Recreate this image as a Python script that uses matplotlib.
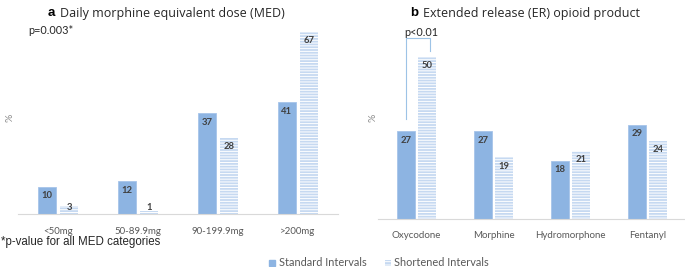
import matplotlib
matplotlib.use("Agg")
import matplotlib.pyplot as plt
from matplotlib.patches import Rectangle
import numpy as np

plt.rcParams['hatch.linewidth'] = 0.7

med_cats = ["<50mg", "50-89.9mg", "90-199.9mg", ">200mg"]
med_standard = [10, 12, 37, 41]
med_shortened = [3, 1, 28, 67]

er_cats = ["Oxycodone", "Morphine", "Hydromorphone", "Fentanyl"]
er_standard = [27, 27, 18, 29]
er_shortened = [50, 19, 21, 24]

W, H = 685, 267
fig = plt.figure(figsize=(6.85, 2.67), dpi=100)

STD_COLOR = "#8DB4E2"
SHORT_COLOR = "#C6D9F1"
TICK_COLOR = "#595959"
LBL_COLOR = "#404040"
FONT = "Lato"

def fx(x):
    return x / W

def fy(y):
    return 1 - y / H

def panel(rect, cats, std, short, ymax, ppu, off, bw):
    ax = fig.add_axes(rect)
    x = np.arange(len(cats))
    ax.bar(x - off, std, bw, color=STD_COLOR, edgecolor="#A6C4EA", linewidth=0.6)
    ax.bar(x + off, short, bw, color=SHORT_COLOR, edgecolor="white",
           hatch="------", linewidth=0)
    for xi, v in zip(x - off, std):
        ax.text(xi, max(v - 9 / ppu, 7 / ppu), str(v), ha="center", va="center",
                fontsize=6.8, fontweight="bold", color=LBL_COLOR, family=FONT)
    for xi, v in zip(x + off, short):
        ax.text(xi, max(v - 9 / ppu, 7 / ppu), str(v), ha="center", va="center",
                fontsize=6.8, fontweight="bold", color=LBL_COLOR, family=FONT)
    ax.set_xlim(-0.5, len(cats) - 0.5)
    ax.set_ylim(0, ymax)
    ax.set_xticks(x)
    ax.set_xticklabels(cats, fontsize=7, color=TICK_COLOR, family=FONT)
    ax.tick_params(axis="x", length=0, pad=9)
    ax.set_yticks([])
    for s in ["top", "right", "left"]:
        ax.spines[s].set_visible(False)
    ax.spines["bottom"].set_color("#D9D9D9")
    ax.spines["bottom"].set_linewidth(0.8)
    ax.patch.set_alpha(0)
    return ax

# left panel: baseline y=214, 2.72 px/unit
ax1 = panel([fx(18), fy(214), 320 / W, 70 * 2.72 / H], med_cats, med_standard,
            med_shortened, 70, 2.72, 0.14, 0.225)
# right panel: baseline y=219, 3.25 px/unit
ax2 = panel([fx(378), fy(219), 308 / W, 60 * 3.25 / H], er_cats, er_standard,
            er_shortened, 60, 3.25, 0.137, 0.233)

# titles
fig.text(fx(48), fy(13), "a", fontsize=9.5, fontweight="bold", va="center",
         ha="left", family="Liberation Sans")
fig.text(fx(60), fy(13), "Daily morphine equivalent dose (MED)", fontsize=9,
         va="center", ha="left", family="Open Sans", color="#262626")
fig.text(fx(410), fy(13), "b", fontsize=9.5, fontweight="bold", va="center",
         ha="left", family="Liberation Sans")
fig.text(fx(423), fy(13), "Extended release (ER) opioid product", fontsize=9,
         va="center", ha="left", family="Open Sans", color="#262626")

# y labels
fig.text(fx(10), fy(118), "%", fontsize=7.5, rotation=90, va="center", ha="center",
         color="#8C8C8C", family=FONT)
fig.text(fx(373), fy(118), "%", fontsize=7.5, rotation=90, va="center", ha="center",
         color="#8C8C8C", family=FONT)

# p-values
fig.text(fx(28), fy(30), "p=0.003*", fontsize=7.8, va="center", ha="left",
         family=FONT, color="#262626")
fig.text(fx(404), fy(32), "p<0.01", fontsize=7.8, va="center", ha="left",
         family=FONT, color="#262626")
fig.add_artist(plt.Line2D([fx(406), fx(406), fx(430), fx(430)],
                          [fy(119), fy(38), fy(38), fy(51)],
                          color="#9DC3E6", linewidth=0.8))

# footnote
fig.text(fx(1), fy(242), "*p-value for all MED categories", fontsize=8.3, va="center",
         ha="left", family="Liberation Sans", color="#262626")

# legend
fig.add_artist(Rectangle((fx(269), fy(266)), 6 / W, 6 / H, color=STD_COLOR))
fig.text(fx(279), fy(262), "Standard Intervals", fontsize=7.9, va="center", ha="left",
         color=TICK_COLOR, family=FONT)
fig.add_artist(Rectangle((fx(385), fy(266)), 6 / W, 6 / H, facecolor=SHORT_COLOR,
                         edgecolor="white", hatch="-----", linewidth=0))
fig.text(fx(394), fy(262), "Shortened Intervals", fontsize=7.9, va="center", ha="left",
         color=TICK_COLOR, family=FONT)

fig.savefig("out.png", dpi=100)
